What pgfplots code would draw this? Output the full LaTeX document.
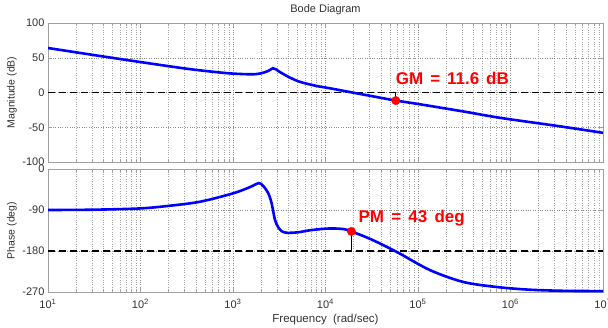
\documentclass[border=0pt]{standalone}
\usepackage{pgfplots}
\pgfplotsset{compat=1.18}
\usepackage{fontspec}
\setmainfont{Liberation Sans}
\definecolor{axgray}{RGB}{160,160,160}
\definecolor{txtgray}{RGB}{50,50,50}
\definecolor{curveblue}{RGB}{0,0,255}
\definecolor{annred}{RGB}{255,0,0}
\pgfplotsset{bodestyle/.style={
  scale only axis, width=555pt, xmin=10, xmax=1e7,
  axis line style={axgray, line width=0.8pt}, tick style={axgray, line width=0.5pt},
  grid=both,
  major grid style={dotted, black!45, line width=0.5pt},
  minor grid style={dotted, black!35, line width=0.5pt},
  tick label style={font=\fontsize{11}{13}\selectfont, text=txtgray},
  label style={font=\fontsize{10.5}{12}\selectfont, text=txtgray},
  xtick={1e1,1e2,1e3,1e4,1e5,1e6,1e7},
  major tick length=4pt, minor tick length=2.5pt,
  clip mode=individual,
}}
\pgfplotstableread{
x y
10 64
31.62 53.8
100 43.8
316.2 34.2
631 29.6
1000 27.2
1585 26.2
2000 27.5
2400 31
2692 34.8
2900 33.5
3162 30
3981 22.5
5248 15.5
7943 9.5
11220 6
19500 0
31620 -5.2
57540 -11.6
100000 -16.5
316200 -27.5
776200 -36.5
3162000 -48
10000000 -58
}\magdata
\pgfplotstableread{
x y
10 -90
31.62 -89.3
100 -86.5
199.5 -81
436.5 -72
1000 -53.5
1514 -40
1905 -31
2128 -37.4
2410 -53.6
2618 -75.6
2844 -112
3090 -128
3357 -136.5
3802 -140
5012 -139
7079 -134
11220 -130.5
15850 -132
19050 -137
31620 -155
58880 -182
134900 -222
309000 -248
707900 -259
1622000 -265
3981000 -267.5
10000000 -268
}\phasedata
\begin{document}
\begin{tikzpicture}
\path[use as bounding box] (0pt,0pt) rectangle (608pt,-327pt);
\begin{axis}[xmode=log, bodestyle,
  at={(48pt,-23pt)}, anchor=north west, height=139pt,
  ymin=-100, ymax=100, ytick={-100,-50,0,50,100},
  yticklabels={-100,-50,0,50,100},
  xticklabels={},
  ylabel={Magnitude (dB)},
  ylabel style={at={(axis description cs:-0.065,0.5)}, anchor=center},
  title={Bode Diagram},
  title style={at={(axis description cs:0.5,1.034)}, anchor=base, font=\fontsize{11}{13}\selectfont, text=txtgray},
]
\addplot[black, line width=1.5pt, dash pattern=on 7pt off 4pt] coordinates {(10,0) (1e7,0)};
\addplot[curveblue, line width=2.6pt, smooth, tension=0.5] table {\magdata};
\addplot[black, line width=1pt] coordinates {(57540,-11.6) (57540,0)};
\addplot[only marks, mark=*, mark size=4.2pt, annred, mark options={fill=annred, draw=annred}] coordinates {(57540,-11.6)};
\node[anchor=base west, text=annred, font=\bfseries\fontsize{17}{20}\selectfont, inner sep=0pt] at (axis cs:57540,10.8) {GM\hspace{2.2pt} =\hspace{2.2pt} 11.6\hspace{2.2pt} dB};
\end{axis}
\begin{axis}[xmode=log, bodestyle,
  at={(48pt,-169pt)}, anchor=north west, height=123pt,
  ymin=-270, ymax=0, ytick={-270,-180,-90,0},
  yticklabels={-270,-180,-90,0},
  xticklabels={10\textsuperscript{1},10\textsuperscript{2},10\textsuperscript{3},10\textsuperscript{4},10\textsuperscript{5},10\textsuperscript{6},10\textsuperscript{7}},
  xticklabel style={anchor=base, yshift=-16pt},
  ylabel={Phase (deg)},
  ylabel style={at={(axis description cs:-0.065,0.5)}, anchor=center},
  xlabel={Frequency\ \ (rad/sec)},
  xlabel style={at={(axis description cs:0.5,-0.25)}, anchor=base, font=\fontsize{11.5}{13}\selectfont},
]
\addplot[black, line width=1.5pt, dash pattern=on 7pt off 4pt] coordinates {(10,-180) (1e7,-180)};
\addplot[curveblue, line width=2.6pt, smooth, tension=0.5] table {\phasedata};
\addplot[black, line width=1pt] coordinates {(19050,-137) (19050,-180)};
\addplot[only marks, mark=*, mark size=4.2pt, annred, mark options={fill=annred, draw=annred}] coordinates {(19050,-137)};
\node[anchor=base west, text=annred, font=\bfseries\fontsize{17}{20}\selectfont, inner sep=0pt] at (axis cs:22650,-118) {PM\hspace{2.5pt} =\hspace{2.5pt} 43\hspace{2.5pt} deg};
\end{axis}
\end{tikzpicture}
\end{document}
